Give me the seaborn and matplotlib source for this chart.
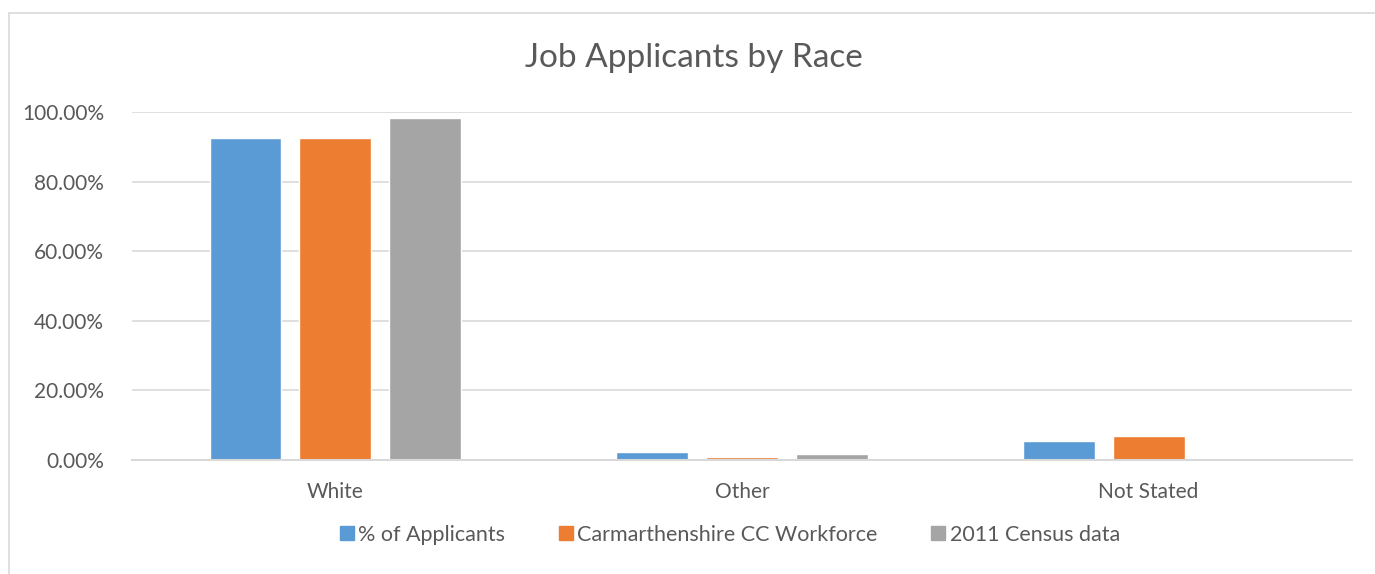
import numpy as np
import pandas as pd
import seaborn as sns
import matplotlib.pyplot as plt
from matplotlib.lines import Line2D
from matplotlib.ticker import PercentFormatter

# data (fractions)
categories = ['White', 'Other', 'Not Stated']
series = ['% of Applicants', 'Carmarthenshire CC Workforce', '2011 Census data']
applicants = [0.925, 0.024, 0.055]
workforce = [0.925, 0.009, 0.070]
census = [0.982, 0.018, 0.0]
colors = ['#5B9BD5', '#ED7D31', '#A5A5A5']

df = pd.DataFrame({
    'Race': categories * 3,
    'Series': np.repeat(series, 3),
    'Value': applicants + workforce + census,
})

sns.set_theme(style='white')
plt.rcParams['font.family'] = ['Lato', 'DejaVu Sans']
text_col = '#595959'
grid_col = '#D9D9D9'

W, H = 1375, 574
fig = plt.figure(figsize=(W / 100, H / 100), dpi=100)
ax = fig.add_axes([132 / W, 1 - 460 / H, (1352 - 132) / W, (460 - 112) / H])

sns.barplot(data=df, x='Race', y='Value', hue='Series', palette=colors,
            width=0.663, gap=0.2, ax=ax, legend=False, saturation=1)

ax.set_ylim(0, 1.0)
ax.set_yticks(np.arange(0, 1.01, 0.2))
ax.yaxis.set_major_formatter(PercentFormatter(1.0, decimals=2))
ax.set_xlim(-0.5, 2.5)
ax.grid(axis='y', color=grid_col, linewidth=1.2)
ax.set_axisbelow(True)
for s in ['top', 'right', 'left']:
    ax.spines[s].set_visible(False)
ax.spines['bottom'].set_color(grid_col)
ax.spines['bottom'].set_linewidth(1.5)
ax.set_xlabel('')
ax.set_ylabel('')
ax.tick_params(axis='y', labelsize=15, labelcolor=text_col, length=0, pad=20)
ax.tick_params(axis='x', labelsize=15, labelcolor=text_col, length=0, pad=16)

fig.text(694 / W, 1 - 58 / H, 'Job Applicants by Race', ha='center', va='center',
         fontsize=24, color=text_col)

handles = [Line2D([], [], marker='s', linestyle='', markersize=10,
                  markerfacecolor=c, markeredgecolor=c) for c in colors]
fig.legend(handles, series, loc='center', bbox_to_anchor=(728 / W, 1 - 535 / H),
           ncol=3, frameon=False, fontsize=15.5, labelcolor=text_col,
           handletextpad=0.05, columnspacing=2.3, handlelength=1.0)

# chart area border (left and top edges visible)
fig.add_artist(Line2D([8.5 / W, 8.5 / W], [0, 1 - 13 / H], transform=fig.transFigure,
                      color=grid_col, linewidth=1.2))
fig.add_artist(Line2D([8.5 / W, 1], [1 - 13 / H, 1 - 13 / H], transform=fig.transFigure,
                      color=grid_col, linewidth=1.2))

fig.savefig('out.png', dpi=100, facecolor='white')
